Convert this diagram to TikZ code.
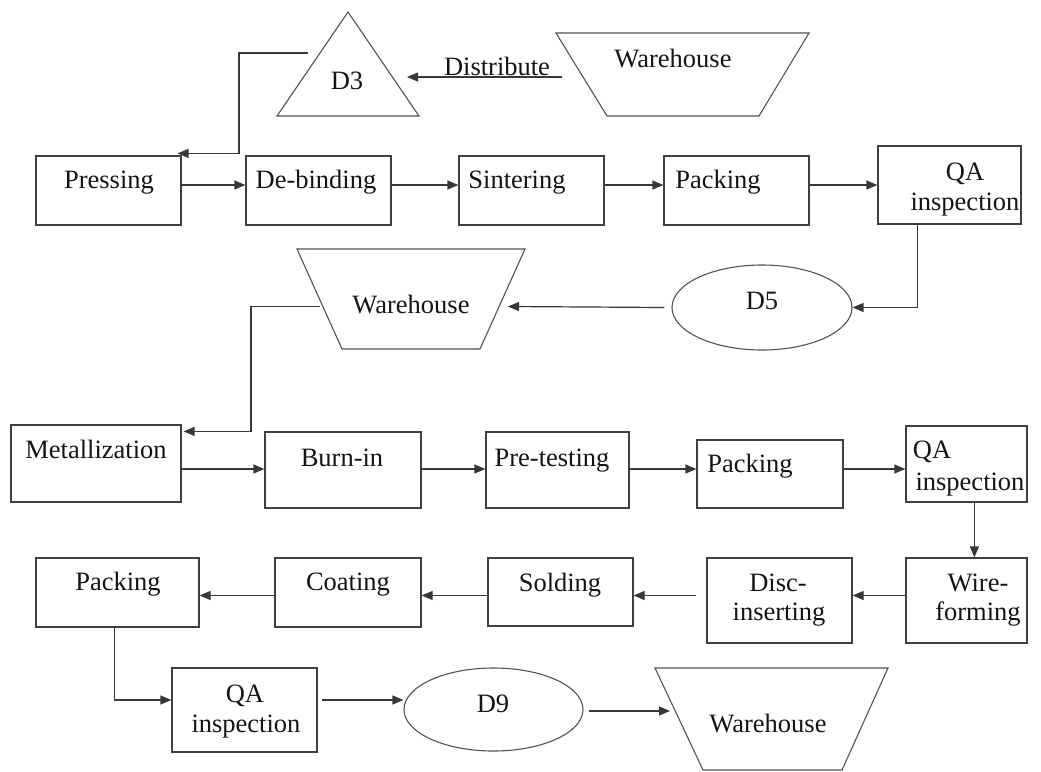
\documentclass[tikz,border=0pt]{standalone}
\usepackage{fontspec}
\setmainfont{Liberation Serif}
\usetikzlibrary{arrows.meta,shapes.geometric,fit,calc}
\begin{document}
\begin{tikzpicture}[x=1pt,y=-1pt,
  ln/.style={draw=black!78, line width=1.2pt},
  arr/.style={ln, -{Triangle[length=11pt,width=9pt]}},
  box/.style={draw=black!75, line width=1.2pt, inner sep=0pt, rectangle},
  shp/.style={draw=black!68, line width=1.1pt},
  lbl/.style={font=\fontsize{26.5}{30}\selectfont, text=black!92, inner sep=0pt, anchor=base},
]
\useasboundingbox (0,0) rectangle (1041,771);

% rows for straight connectors
\coordinate (r1) at (0,185);
\coordinate (r2) at (0,469);
\coordinate (r3) at (0,595.5);
\coordinate (r4) at (0,700);

% ---------- shapes ----------
% D3 triangle
\draw[shp] (348,12) -- (419,116) -- (277,116) -- cycle;
\node[lbl] (d3t) at (347,89) {D3};
\coordinate (d3l) at (308,53);
\coordinate (d3r) at (407,77);
% Warehouse 1
\draw[shp] (556,33) -- (809,33) -- (759,116) -- (607,116) -- cycle;
\node[lbl] (wh1t) at (673,67) {Warehouse};
\coordinate (wh1l) at (562,77);

% row 1 boxes
\node[box, fit={(36,156) (181,225)}] (press) {};
\node[lbl] (presst) at (109,188) {Pressing};
\node[box, fit={(246,156) (391,225)}] (debind) {};
\node[lbl] (debindt) at (316,188) {De-binding};
\node[box, fit={(459,156) (604,225)}] (sinter) {};
\node[lbl] (sintert) at (517,188) {Sintering};
\node[box, fit={(664,156) (809,225)}] (pack1) {};
\node[lbl] (pack1t) at (718,188) {Packing};
\node[box, fit={(878,146) (1021,224)}] (qa1) {};
\node[lbl] (qa1a) at (965,180) {QA};
\node[lbl] (qa1b) at (965,210) {inspection};

% D5 ellipse
\node[ellipse, shp, minimum width=180pt, minimum height=85pt, inner sep=0pt] (d5) at (762,307.5) {};
\node[lbl] (d5t) at (762,309) {D5};
% Warehouse 2
\draw[shp] (297,249) -- (525,249) -- (480,349) -- (342,349) -- cycle;
\node[lbl] (wh2t) at (411,313) {Warehouse};
\coordinate (wh2r) at (508,306.5);
\coordinate (wh2l) at (320,306.5);

% row 2 boxes
\node[box, fit={(11,425) (181,502)}] (metal) {};
\node[lbl] (metalt) at (96,458) {Metallization};
\node[box, fit={(265,432) (421,508)}] (burn) {};
\node[lbl] (burnt) at (342,466) {Burn-in};
\node[box, fit={(486,432) (629,508)}] (pretest) {};
\node[lbl] (pretestt) at (552,466) {Pre-testing};
\node[box, fit={(697,440) (843,508)}] (pack2) {};
\node[lbl] (pack2t) at (750,472) {Packing};
\node[box, fit={(906,426) (1027,502)}] (qa2) {};
\node[lbl] (qa2a) at (932,458) {QA};
\node[lbl] (qa2b) at (970,490) {inspection};

% row 3 boxes
\node[box, fit={(906,558) (1027,643)}] (wire) {};
\node[lbl] (wirea) at (978,591) {Wire-};
\node[lbl] (wireb) at (978,620) {forming};
\node[box, fit={(707,558) (852,643)}] (disc) {};
\node[lbl] (disca) at (778,591) {Disc-};
\node[lbl] (discb) at (779,620) {inserting};
\node[box, fit={(488,558) (633,626)}] (sold) {};
\node[lbl] (soldt) at (560,591) {Solding};
\node[box, fit={(275,558) (421,627)}] (coat) {};
\node[lbl] (coatt) at (348,590) {Coating};
\node[box, fit={(36,558) (199,627)}] (pack3) {};
\node[lbl] (pack3t) at (118,590) {Packing};

% row 4
\node[box, fit={(172,668) (317,752)}] (qa3) {};
\node[lbl] (qa3a) at (245,702) {QA};
\node[lbl] (qa3b) at (246,732) {inspection};
\node[ellipse, shp, minimum width=179pt, minimum height=83pt, inner sep=0pt] (d9) at (493.5,709.5) {};
\node[lbl] (d9t) at (493,712) {D9};
\draw[shp] (655,668) -- (888,668) -- (842,770) -- (703,770) -- cycle;
\node[lbl] (wh3t) at (768,732) {Warehouse};
\coordinate (wh3l) at (670,711);

% ---------- connectors ----------
\draw[arr] (wh1l) -- (d3r);
\node[lbl, anchor=base] (dist) at (497,75) {Distribute};
\draw[arr] (d3l) -- (239,53) |- ($(press.north east)+(-4,-2)$);

\draw[arr] (press.east |- r1) -- (debind.west |- r1);
\draw[arr] (debind.east |- r1) -- (sinter.west |- r1);
\draw[arr] (sinter.east |- r1) -- (pack1.west |- r1);
\draw[arr] (pack1.east |- r1) -- (qa1.west |- r1);

\draw[arr] ($(qa1.south west)+(40,0)$) |- (d5.east);
\draw[arr] ($(d5.west)+(-7,0)$) -- (wh2r);
\draw[arr] (wh2l) -- (251,306.5) |- ($(metal.north east)+(2,7)$);

\draw[arr] (metal.east |- r2) -- (burn.west |- r2);
\draw[arr] (burn.east |- r2) -- (pretest.west |- r2);
\draw[arr] (pretest.east |- r2) -- (pack2.west |- r2);
\draw[arr] (pack2.east |- r2) -- (qa2.west |- r2);

\draw[arr] ($(qa2.south west)+(69,0)$) -- ($(wire.north west)+(69,0)$);
\draw[arr] (wire.west |- r3) -- (disc.east |- r3);
\draw[arr] ($(disc.west |- r3)+(-10,0)$) -- (sold.east |- r3);
\draw[arr] (sold.west |- r3) -- (coat.east |- r3);
\draw[arr] (coat.west |- r3) -- (pack3.east |- r3);

\draw[arr] ($(pack3.south west)+(79,0)$) |- (qa3.west |- r4);
\draw[arr] ($(qa3.east |- r4)+(4,0)$) -- (d9.west |- r4);
\draw[arr] ($(d9.east)+(5,1.5)$) -- (wh3l);
\end{tikzpicture}
\end{document}
